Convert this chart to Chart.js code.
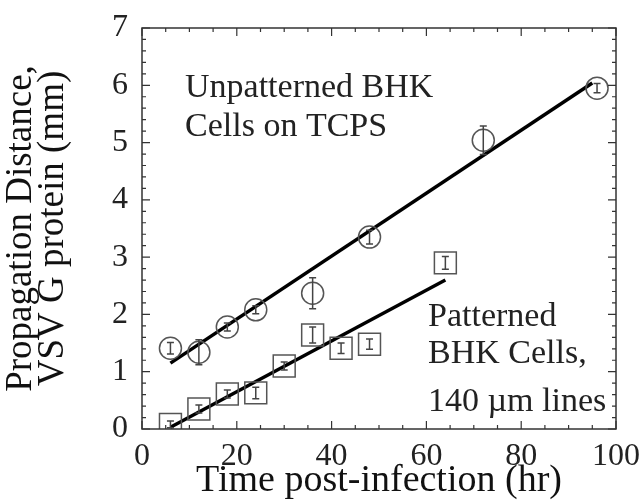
<!DOCTYPE html>
<html>
<head>
<meta charset="utf-8">
<script src="https://cdn.jsdelivr.net/npm/chart.js@4/dist/chart.umd.min.js"></script>
<style>
  html, body { margin: 0; padding: 0; background: #fff; }
</style>
</head>
<body>
<canvas id="myChart" width="640" height="500"></canvas>
<script>
// data
var unpatTime = [6, 12, 18, 24, 36, 48, 72, 96];
var unpatDist = [1.41, 1.34, 1.78, 2.08, 2.37, 3.35, 5.04, 5.95];
var unpatErr  = [0.10, 0.22, 0.07, 0.07, 0.27, 0.12, 0.25, 0.08];

var patTime = [6, 12, 18, 24, 30, 36, 42, 48, 64];
var patDist = [0.08, 0.35, 0.61, 0.63, 1.10, 1.64, 1.41, 1.48, 2.90];
var patErr  = [0.06, 0.07, 0.07, 0.10, 0.07, 0.14, 0.09, 0.09, 0.11];

// linear fits as drawn
var unpatFitX = [6, 95];
var unpatFitY = [1.15, 6.04];
var patFitX = [6, 64];
var patFitY = [0.03, 2.60];

var xTicks = [0, 20, 40, 60, 80, 100];
var yTicks = [0, 1, 2, 3, 4, 5, 6, 7];

var serif = '"Liberation Serif", "DejaVu Serif", serif';

function pts(xs, ys) {
    return xs.map(function (x, i) { return { x: x, y: ys[i] }; });
}

// error bars, inward ticks, box and the two labels
var extras = {
    id: 'extras',
    afterDatasetsDraw: function (chart) {
        var ctx = chart.ctx;
        var xs = chart.scales.x, ys = chart.scales.y;
        var a = chart.chartArea;
        ctx.save();

        // error bars
        ctx.strokeStyle = '#444';
        ctx.lineWidth = 1.5;
        [[unpatTime, unpatDist, unpatErr], [patTime, patDist, patErr]].forEach(function (s) {
            s[0].forEach(function (t, i) {
                var px = xs.getPixelForValue(t);
                var y1 = ys.getPixelForValue(s[1][i] - s[2][i]);
                var y2 = ys.getPixelForValue(s[1][i] + s[2][i]);
                ctx.beginPath();
                ctx.moveTo(px, y1); ctx.lineTo(px, y2);
                ctx.moveTo(px - 3.5, y1); ctx.lineTo(px + 3.5, y1);
                ctx.moveTo(px - 3.5, y2); ctx.lineTo(px + 3.5, y2);
                ctx.stroke();
            });
        });

        // box
        ctx.strokeStyle = '#333';
        ctx.lineWidth = 1.5;
        ctx.strokeRect(a.left, a.top, a.right - a.left, a.bottom - a.top);

        // inward ticks on all four sides
        ctx.lineWidth = 1.2;
        ctx.beginPath();
        for (var v = 0; v <= 100; v += 5) {
            var px = xs.getPixelForValue(v);
            var len = (v % 20 === 0) ? 8 : 4;
            ctx.moveTo(px, a.bottom); ctx.lineTo(px, a.bottom - len);
            ctx.moveTo(px, a.top); ctx.lineTo(px, a.top + len);
        }
        for (var k = 0; k <= 35; k++) {
            var py = ys.getPixelForValue(k / 5);
            var ln = (k % 5 === 0) ? 8 : 4;
            ctx.moveTo(a.left, py); ctx.lineTo(a.left + ln, py);
            ctx.moveTo(a.right, py); ctx.lineTo(a.right - ln, py);
        }
        ctx.stroke();

        // labels
        ctx.fillStyle = '#222';
        ctx.font = '34px ' + serif;
        ctx.textBaseline = 'middle';
        ctx.textAlign = 'left';
        ctx.fillText('Unpatterned BHK', 185, 88);
        ctx.fillText('Cells on TCPS', 185, 127);
        ctx.fillText('Patterned', 428, 317);
        ctx.fillText('BHK Cells,', 428, 354);
        ctx.fillText('140 \u00b5m lines', 428, 402);
        ctx.restore();
    }
};

var ctx = document.getElementById('myChart').getContext('2d');
var myChart = new Chart(ctx, {
    type: 'scatter',
    data: {
        datasets: [{
            label: 'Unpatterned BHK Cells on TCPS',
            data: pts(unpatTime, unpatDist),
            pointStyle: 'circle',
            pointRadius: 11,
            borderColor: '#555',
            borderWidth: 1.5,
            backgroundColor: 'rgba(0,0,0,0)'
        }, {
            label: 'Patterned BHK Cells, 140 \u00b5m lines',
            data: pts(patTime, patDist),
            pointStyle: 'rect',
            pointRadius: 15.5,
            borderColor: '#555',
            borderWidth: 1.5,
            backgroundColor: 'rgba(0,0,0,0)'
        }, {
            type: 'line',
            label: 'fit unpatterned',
            data: pts(unpatFitX, unpatFitY),
            borderColor: '#000',
            borderWidth: 3.5,
            pointRadius: 0,
            fill: false
        }, {
            type: 'line',
            label: 'fit patterned',
            data: pts(patFitX, patFitY),
            borderColor: '#000',
            borderWidth: 3.5,
            pointRadius: 0,
            fill: false
        }]
    },
    plugins: [extras],
    options: {
        responsive: false,
        animation: false,
        devicePixelRatio: 1,
        layout: { padding: { top: 28, right: 24, left: 0, bottom: 0 } },
        plugins: {
            legend: { display: false },
            tooltip: { enabled: false }
        },
        scales: {
            x: {
                type: 'linear',
                min: 0, max: 100,
                afterBuildTicks: function (s) { s.ticks = xTicks.map(function (v) { return { value: v }; }); },
                afterFit: function (s) { s.height = 71; s.paddingLeft = 0; s.paddingRight = 0; },
                grid: { display: false, drawTicks: false },
                border: { display: false },
                ticks: { color: '#222', padding: 8, maxRotation: 0, autoSkip: false, font: { family: serif, size: 32 } },
                title: {
                    display: true,
                    text: 'Time post-infection (hr)',
                    color: '#111',
                    padding: { top: -10, bottom: 0 },
                    font: { family: serif, size: 38, lineHeight: 1.0 }
                }
            },
            y: {
                type: 'linear',
                min: 0, max: 7,
                afterBuildTicks: function (s) { s.ticks = yTicks.map(function (v) { return { value: v }; }); },
                afterFit: function (s) { s.width = 142; s.paddingTop = 0; s.paddingBottom = 0; },
                grid: { display: false, drawTicks: false },
                border: { display: false },
                ticks: { color: '#222', padding: 14, autoSkip: false, font: { family: serif, size: 32 } },
                title: {
                    display: true,
                    text: ['Propagation Distance,', 'VSV G protein (mm)'],
                    color: '#111',
                    padding: { top: 6, bottom: 4 },
                    font: { family: serif, size: 37, lineHeight: 0.85 }
                }
            }
        }
    }
});
</script>
</body>
</html>
